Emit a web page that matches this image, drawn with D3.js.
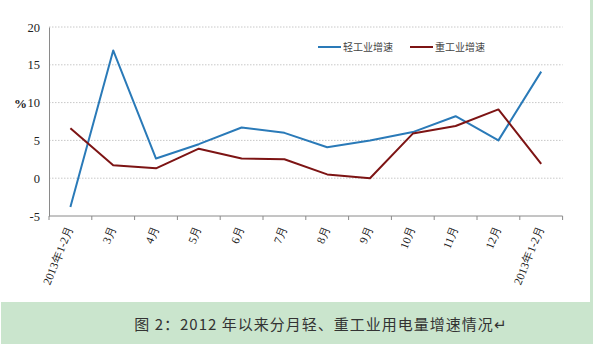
<!DOCTYPE html>
<html><head><meta charset="utf-8">
<script src="https://cdn.jsdelivr.net/npm/d3@7"></script>
<style>body{margin:0;background:#fff;} svg{display:block;}</style>
</head><body>
<script>
const categories = ["2013年1-2月","3月","4月","5月","6月","7月","8月","9月","10月","11月","12月","2013年1-2月"];
const lightIndustry = [-3.8, 16.9, 2.6, 4.5, 6.7, 6.0, 4.1, 5.0, 6.1, 8.2, 5.0, 14.1];
const heavyIndustry = [6.6, 1.7, 1.3, 3.9, 2.6, 2.5, 0.5, 0.0, 5.9, 6.9, 9.1, 1.9];
const yTicks = [-5, 0, 5, 10, 15, 20];
const seriesNames = ["轻工业增速", "重工业增速"];
const caption = "图 2：2012 年以来分月轻、重工业用电量增速情况↵";

const SERIF = "'Liberation Serif', 'Times New Roman', 'DejaVu Serif', serif";
const W = 593, H = 344;
const svg = d3.select("body").append("svg").attr("width", W).attr("height", H);

// green caption band and right edge strip
svg.append("rect").attr("x", 1).attr("y", 302).attr("width", W - 1).attr("height", H - 302).attr("fill", "#cae5cd");
svg.append("rect").attr("x", 590).attr("y", 0).attr("width", 3).attr("height", H).attr("fill", "#cae5cd");

const x = d3.scaleBand().domain(categories.map((d, i) => i)).range([49, 562.6]);
const y = d3.scaleLinear().domain([-5, 20]).range([216, 27]);

// grid
svg.append("g").selectAll("line").data(yTicks.filter(t => t > -5)).join("line")
  .attr("x1", 49).attr("x2", 562.6).attr("y1", d => y(d)).attr("y2", d => y(d))
  .attr("stroke", "#c8c8c8").attr("stroke-width", 1).attr("stroke-dasharray", "1.5,1.5");

// y axis
const yAxis = svg.append("g").attr("transform", "translate(49,0)")
  .call(d3.axisLeft(y).tickValues(yTicks).tickSize(0).tickPadding(9).tickFormat(d => String(d)));
yAxis.attr("font-family", null).attr("font-size", null);
yAxis.select(".domain").attr("stroke", "#8a8a8a");
yAxis.selectAll("text").style("font-family", SERIF).style("font-size", "12.5px").attr("fill", "#222");

svg.append("text").style("font-family", SERIF).attr("x", 14).attr("y", 108)
  .attr("font-weight", "bold").style("font-size", "13px").attr("fill", "#222").text("%");

// x axis
const xAxis = svg.append("g").attr("transform", "translate(0,216)");
xAxis.append("line").attr("x1", 49).attr("x2", 562.6).attr("stroke", "#8a8a8a");
const tickPos = d3.range(categories.length + 1).map(i => x.range()[0] + i * x.step());
xAxis.selectAll(".tk").data(tickPos).join("line").attr("class", "tk")
  .attr("x1", d => d).attr("x2", d => d).attr("y1", 0).attr("y2", 4).attr("stroke", "#8a8a8a");
xAxis.selectAll(".lb").data(categories).join("text").attr("class", "lb")
  .attr("transform", (d, i) => `translate(${x(i) + x.bandwidth() / 2 + 3},${12}) rotate(-68)`)
  .attr("text-anchor", "end").style("font-family", SERIF).style("font-size", "11.5px")
  .attr("fill", "#222").text(d => d);

// lines
const line = d3.line().x((d, i) => x(i) + x.bandwidth() / 2).y(d => y(d));
const colors = ["#2a7ab8", "#7d1414"];
[lightIndustry, heavyIndustry].forEach((s, k) => {
  svg.append("path").datum(s).attr("d", line).attr("fill", "none")
    .attr("stroke", colors[k]).attr("stroke-width", 2).attr("stroke-linejoin", "round");
});

// legend
const lg = svg.append("g").attr("transform", "translate(318,47)");
[[0, 0], [92, 1]].forEach(([dx, k]) => {
  lg.append("line").attr("x1", dx).attr("x2", dx + 23).attr("y1", 0).attr("y2", 0)
    .attr("stroke", colors[k]).attr("stroke-width", 2);
  lg.append("text").attr("x", dx + 25).attr("y", 4).attr("font-family", "Noto Sans CJK SC")
    .attr("font-size", 10).attr("fill", "#444").text(seriesNames[k]);
});

// caption
svg.append("text").attr("x", 321).attr("y", 330).attr("text-anchor", "middle")
  .attr("font-family", "Noto Sans CJK SC").attr("font-size", 15).attr("letter-spacing", 1)
  .attr("fill", "#333").text(caption);
</script>
</body></html>
